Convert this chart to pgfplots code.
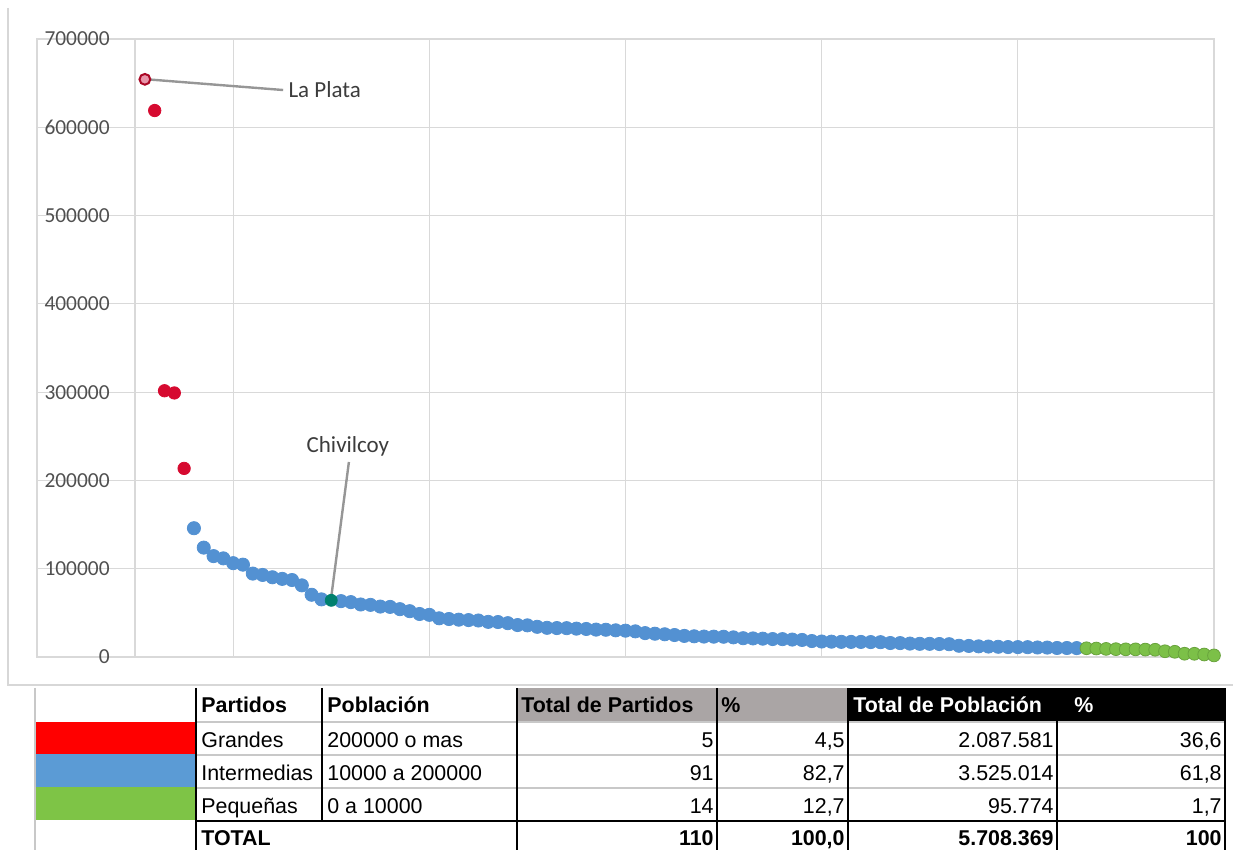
\documentclass[border=0pt]{standalone}
\usepackage{pgfplots}
\pgfplotsset{compat=1.18}
\usepackage{pgfplotstable}
\usepackage{fontspec}
\setmainfont{Liberation Sans}
\newfontfamily\calib{Carlito}

\definecolor{gridgray}{RGB}{217,217,217}
\definecolor{tickgray}{RGB}{80,80,80}
\definecolor{notegray}{RGB}{60,60,60}
\definecolor{leadgray}{RGB}{150,150,150}
\definecolor{ptred}{RGB}{214,10,48}
\definecolor{ptblue}{RGB}{83,145,210}
\definecolor{ptgreen}{RGB}{124,192,72}
\definecolor{ptteal}{RGB}{0,128,110}
\definecolor{ptpink}{RGB}{232,150,170}
\definecolor{swred}{RGB}{255,0,0}
\definecolor{swblue}{RGB}{91,155,213}
\definecolor{swgreen}{RGB}{126,196,70}
\definecolor{headgray}{RGB}{170,165,165}
\definecolor{rowgray}{RGB}{200,200,200}
\definecolor{chartborder}{RGB}{215,215,215}

% partidos grandes (> 200000)
\pgfplotstableread{
x y
2 618989
3 301572
4 299077
5 213619
}\grandes

% partidos intermedios (10000 a 200000)
\pgfplotstableread{
x y
6 145857
7 123871
8 114269
9 111708
10 106273
11 104590
12 94461
13 92933
14 90305
15 88470
16 87185
17 81141
18 70482
19 65280
21 63284
22 62152
23 59478
24 59036
25 57110
26 56729
27 54181
28 51892
29 48703
30 47722
31 43823
32 43021
33 42277
34 41808
35 41336
36 39776
37 39594
38 38320
39 36172
40 35842
41 34190
42 33042
43 32761
44 32653
45 32103
46 31730
47 31014
48 30864
49 30207
50 29805
51 29044
52 27042
53 26367
54 25728
55 24890
56 23871
57 23432
58 23138
59 23027
60 22933
61 22237
62 21279
63 21034
64 20749
65 20337
66 20239
67 19747
68 19301
69 18078
70 17523
71 17365
72 17143
73 17072
74 17054
75 16889
76 16799
77 15825
78 15743
79 15176
80 14903
81 14889
82 14692
83 14494
84 12723
85 12513
86 12047
87 11826
88 11570
89 11261
90 11202
91 11130
92 10783
93 10654
94 10210
95 10188
96 10081
}\intermedias

% partidos chicos (< 10000)
\pgfplotstableread{
x y
97 9888
98 9585
99 9178
100 8869
101 8700
102 8644
103 8399
104 8205
105 6499
106 5887
107 3700
108 3640
109 2816
110 1764
}\chicas

\begin{document}
\begin{tikzpicture}
\useasboundingbox (-18.5pt,-96.5pt) rectangle (598pt,328.5pt);
\begin{axis}[
    at={(0,0)}, anchor=south west,
    scale only axis,
    width=588.5pt, height=309pt,
    xmin=-10, xmax=110,
    ymin=0, ymax=700000,
    xtick={-10,10,...,110},
    xticklabels={},
    extra x ticks={0},
    extra x tick labels={},
    extra x tick style={grid=major},
    ytick={0,100000,...,700000},
    grid=major,
    major grid style={gridgray, line width=0.6pt},
    axis line style={gridgray, line width=0.6pt},
    major tick length=0pt,
    scaled y ticks=false,
    /pgf/number format/assume math mode=true,
    yticklabel style={
        font=\calib\fontsize{10.7}{12}\selectfont,
        text=tickgray, anchor=east, inner sep=0pt, xshift=36.5pt,
        /pgf/number format/fixed,
        /pgf/number format/1000 sep={},
    },
    clip=false,
]
    \addplot[only marks, mark=*, mark size=3.1pt, ptred,
        mark options={fill=ptred, draw=ptred}] table {\grandes};
    \addplot[only marks, mark=*, mark size=3.3pt, ptblue,
        mark options={fill=ptblue, draw=ptblue}] table {\intermedias};
    \addplot[only marks, mark=*, mark size=3.2pt, ptgreen,
        mark options={fill=ptgreen, draw=ptgreen!85!black}] table {\chicas};

    % La Plata y Chivilcoy resaltados
    \addplot[only marks, mark=*, mark size=2.7pt,
        mark options={fill=ptpink, draw=ptred!80!black, line width=1pt}]
        coordinates {(1,654324)};
    \addplot[only marks, mark=*, mark size=3pt,
        mark options={fill=ptteal, draw=ptteal}]
        coordinates {(20,64185)};

    \draw[leadgray, line width=1.2pt] (axis cs:1.6,654000) -- (axis cs:15.1,642200);
    \node[anchor=west, inner sep=1pt, text=notegray,
        font=\calib\fontsize{11.5}{13}\selectfont] at (axis cs:15.4,643000) {La Plata};
    \draw[leadgray, line width=1.2pt] (axis cs:21.8,220900) -- (axis cs:20,68000);
    \node[inner sep=1pt, text=notegray,
        font=\calib\fontsize{11.5}{13}\selectfont] at (axis cs:21.7,239000) {Chivilcoy};
\end{axis}

\begin{scope}[shift={(-18.5pt,328.5pt)}, x=0.5pt, y=-0.5pt,
    font=\fontsize{10.7}{12}\selectfont]
    % borde del grafico
    \draw[chartborder, line width=0.7pt] (8,8) -- (8,685) -- (1240,685);
    % encabezados
    \fill[headgray] (517,688) rectangle (848,721);
    \fill[black] (848,688) rectangle (1226,721);
    % referencias de color
    \fill[swred] (35,722) rectangle (196,754.5);
    \fill[swblue] (35,754.5) rectangle (196,787.5);
    \fill[swgreen] (35,787.5) rectangle (196,820);
    % lineas
    \draw[rowgray, line width=0.6pt] (35,688) -- (35,850);
    \draw[rowgray, line width=0.6pt] (196,722) -- (1225,722);
    \draw[rowgray, line width=0.6pt] (196,755) -- (1225,755);
    \draw[rowgray, line width=0.6pt] (196,788) -- (1225,788);
    \draw[black, line width=0.9pt] (196,821) -- (1225,821);
    \foreach \xx in {196,517,717,848}
        \draw[black, line width=0.9pt] (\xx,688) -- (\xx,850);
    \draw[black, line width=0.9pt] (322,688) -- (322,821);
    \draw[black, line width=0.9pt] (1057,721) -- (1057,850);
    \draw[black, line width=0.9pt] (1225,721) -- (1225,850);
    % texto de encabezado
    \begin{scope}[every node/.style={inner sep=0pt, font=\bfseries\fontsize{10.7}{12}\selectfont}]
        \node[anchor=base west] at (201,713) {Partidos};
        \node[anchor=base west] at (327,713) {Población};
        \node[anchor=base west] at (521,713) {Total de Partidos};
        \node[anchor=base west] at (721,713) {\%};
        \node[anchor=base west, text=white] at (853,713) {Total de Población};
        \node[anchor=base west, text=white] at (1074,713) {\%};
    \end{scope}
    \begin{scope}[every node/.style={inner sep=0pt}]
        \node[anchor=base west] at (201,748) {Grandes};
        \node[anchor=base west] at (327,748) {200000 o mas};
        \node[anchor=base east] at (714,748) {5};
        \node[anchor=base east] at (845,748) {4,5};
        \node[anchor=base east] at (1054,748) {2.087.581};
        \node[anchor=base east] at (1222,748) {36,6};
        \node[anchor=base west] at (201,781) {Intermedias};
        \node[anchor=base west] at (327,781) {10000 a 200000};
        \node[anchor=base east] at (714,781) {91};
        \node[anchor=base east] at (845,781) {82,7};
        \node[anchor=base east] at (1054,781) {3.525.014};
        \node[anchor=base east] at (1222,781) {61,8};
        \node[anchor=base west] at (201,814) {Pequeñas};
        \node[anchor=base west] at (327,814) {0 a 10000};
        \node[anchor=base east] at (714,814) {14};
        \node[anchor=base east] at (845,814) {12,7};
        \node[anchor=base east] at (1054,814) {95.774};
        \node[anchor=base east] at (1222,814) {1,7};
    \end{scope}
    \begin{scope}[every node/.style={inner sep=0pt, font=\bfseries\fontsize{10.7}{12}\selectfont}]
        \node[anchor=base west] at (201,846) {TOTAL};
        \node[anchor=base east] at (714,846) {110};
        \node[anchor=base east] at (845,846) {100,0};
        \node[anchor=base east] at (1054,846) {5.708.369};
        \node[anchor=base east] at (1222,846) {100};
    \end{scope}
\end{scope}
\end{tikzpicture}
\end{document}
